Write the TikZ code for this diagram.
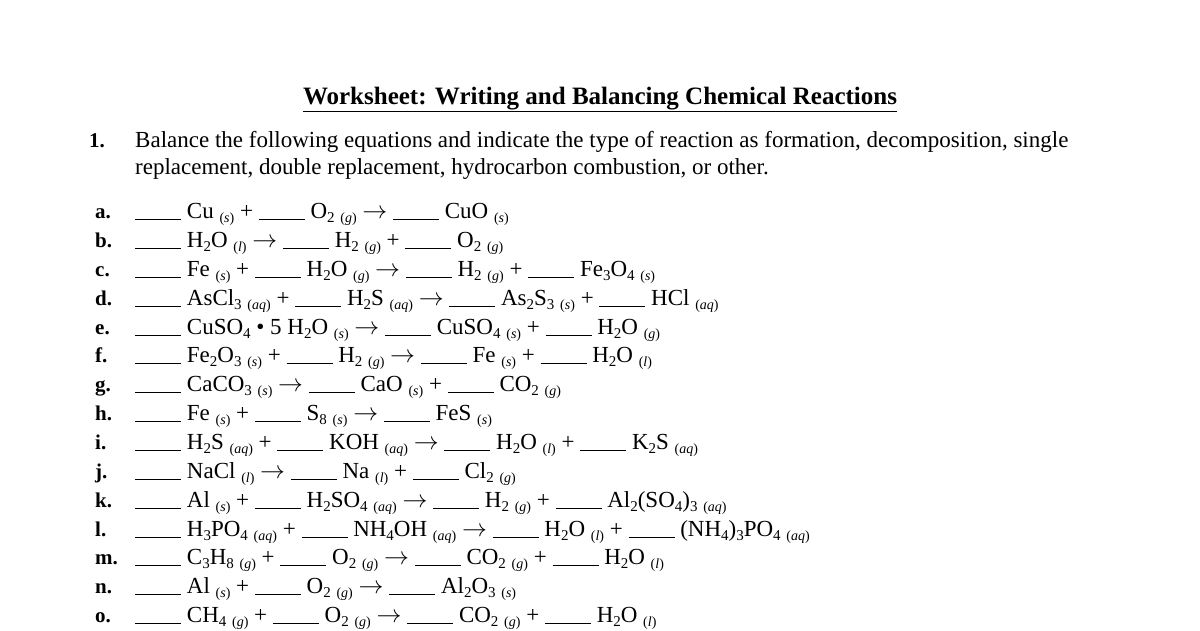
\documentclass[tikz,border=0pt]{standalone}
\usepackage{fontspec}
\setmainfont{Liberation Serif}
\usetikzlibrary{positioning}
\newcommand{\blank}{\rule[-2pt]{46pt}{0.9pt}}
\newcommand{\ph}[1]{\raisebox{-4pt}{\fontsize{14}{14}\selectfont(\textit{#1})}}
\newcommand{\sub}[1]{\raisebox{-4pt}{\fontsize{15}{15}\selectfont #1}}
\newcommand{\yields}{$\rightarrow$}
\begin{document}
\begin{tikzpicture}[x=1pt,y=-1pt,
	every node/.style={inner sep=0pt,anchor=base west,font=\fontsize{23}{26}\selectfont},
	letter/.style={font=\fontsize{21}{24}\selectfont\bfseries},
	]
	\useasboundingbox (0,0) rectangle (1200,630);
	% title
	\node[anchor=base,font=\fontsize{25}{28}\selectfont\bfseries] (title) at (600,104) {\underline{Worksheet: Writing and Balancing Chemical Reactions}};
	% question
	\node[letter] (q1) at (89,147) {1.};
	\node (q1a) at (135,147) {Balance the following equations and indicate the type of reaction as formation, decomposition, single};
	\node (q1b) at (135,174) {replacement, double replacement, hydrocarbon combustion, or other.};
	% equations
	\node[letter] (la) at (95,218) {a.};
	\node (ea) at (135,218) {\blank\ Cu \ph{s} + \blank\ O\sub{2} \ph{g} \yields\ \blank\ CuO \ph{s}};
	\node[letter] (lb) at (95,247) {b.};
	\node (eb) at (135,247) {\blank\ H\sub{2}O \ph{l} \yields\ \blank\ H\sub{2} \ph{g} + \blank\ O\sub{2} \ph{g}};
	\node[letter] (lc) at (95,276) {c.};
	\node (ec) at (135,276) {\blank\ Fe \ph{s} + \blank\ H\sub{2}O \ph{g} \yields\ \blank\ H\sub{2} \ph{g} + \blank\ Fe\sub{3}O\sub{4} \ph{s}};
	\node[letter] (ld) at (95,305) {d.};
	\node (ed) at (135,305) {\blank\ AsCl\sub{3} \ph{aq} + \blank\ H\sub{2}S \ph{aq} \yields\ \blank\ As\sub{2}S\sub{3} \ph{s} + \blank\ HCl \ph{aq}};
	\node[letter] (le) at (95,334) {e.};
	\node (ee) at (135,334) {\blank\ CuSO\sub{4} \textbullet\ 5 H\sub{2}O \ph{s} \yields\ \blank\ CuSO\sub{4} \ph{s} + \blank\ H\sub{2}O \ph{g}};
	\node[letter] (lf) at (95,362) {f.};
	\node (ef) at (135,362) {\blank\ Fe\sub{2}O\sub{3} \ph{s} + \blank\ H\sub{2} \ph{g} \yields\ \blank\ Fe \ph{s} + \blank\ H\sub{2}O \ph{l}};
	\node[letter] (lg) at (95,391) {g.};
	\node (eg) at (135,391) {\blank\ CaCO\sub{3} \ph{s} \yields\ \blank\ CaO \ph{s} + \blank\ CO\sub{2} \ph{g}};
	\node[letter] (lh) at (95,420) {h.};
	\node (eh) at (135,420) {\blank\ Fe \ph{s} + \blank\ S\sub{8} \ph{s} \yields\ \blank\ FeS \ph{s}};
	\node[letter] (li) at (95,449) {i.};
	\node (ei) at (135,449) {\blank\ H\sub{2}S \ph{aq} + \blank\ KOH \ph{aq} \yields\ \blank\ H\sub{2}O \ph{l} + \blank\ K\sub{2}S \ph{aq}};
	\node[letter] (lj) at (95,478) {j.};
	\node (ej) at (135,478) {\blank\ NaCl \ph{l} \yields\ \blank\ Na \ph{l} + \blank\ Cl\sub{2} \ph{g}};
	\node[letter] (lk) at (95,507) {k.};
	\node (ek) at (135,507) {\blank\ Al \ph{s} + \blank\ H\sub{2}SO\sub{4} \ph{aq} \yields\ \blank\ H\sub{2} \ph{g} + \blank\ Al\sub{2}(SO\sub{4})\sub{3} \ph{aq}};
	\node[letter] (ll) at (95,536) {l.};
	\node (el) at (135,536) {\blank\ H\sub{3}PO\sub{4} \ph{aq} + \blank\ NH\sub{4}OH \ph{aq} \yields\ \blank\ H\sub{2}O \ph{l} + \blank\ (NH\sub{4})\sub{3}PO\sub{4} \ph{aq}};
	\node[letter] (lm) at (95,564) {m.};
	\node (em) at (135,564) {\blank\ C\sub{3}H\sub{8} \ph{g} + \blank\ O\sub{2} \ph{g} \yields\ \blank\ CO\sub{2} \ph{g} + \blank\ H\sub{2}O \ph{l}};
	\node[letter] (ln) at (95,593) {n.};
	\node (en) at (135,593) {\blank\ Al \ph{s} + \blank\ O\sub{2} \ph{g} \yields\ \blank\ Al\sub{2}O\sub{3} \ph{s}};
	\node[letter] (lo) at (95,622) {o.};
	\node (eo) at (135,622) {\blank\ CH\sub{4} \ph{g} + \blank\ O\sub{2} \ph{g} \yields\ \blank\ CO\sub{2} \ph{g} + \blank\ H\sub{2}O \ph{l}};
\end{tikzpicture}
\end{document}
